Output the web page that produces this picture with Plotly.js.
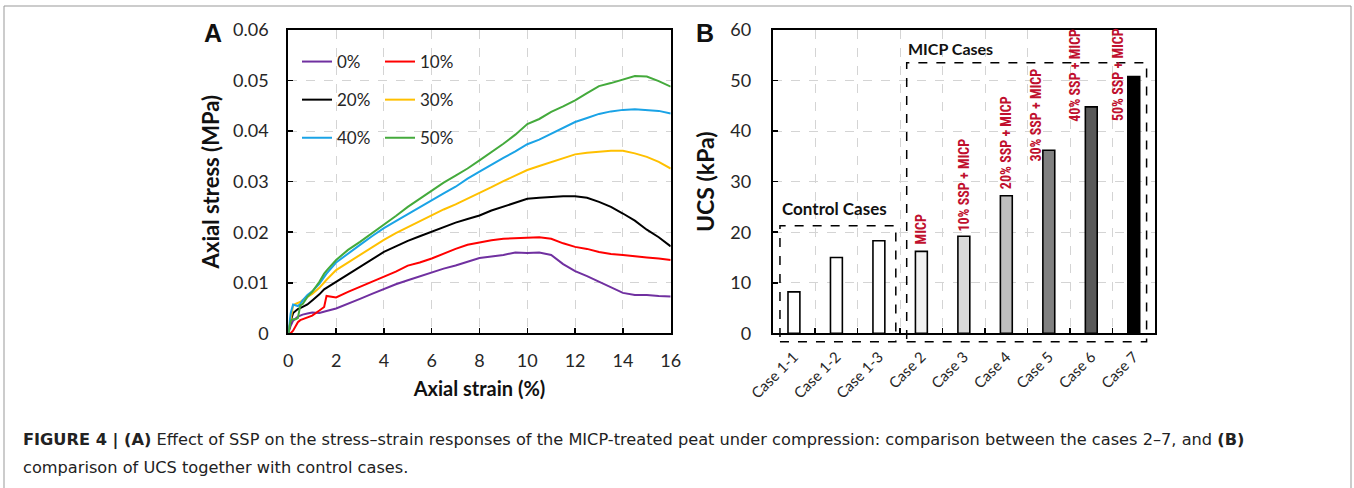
<!DOCTYPE html>
<html>
<head>
<meta charset="utf-8">
<script src="https://cdn.plot.ly/plotly-3.0.1.min.js"></script>
<style>html,body{margin:0;padding:0;background:#fff;}#chart{width:1354px;height:488px;}</style>
</head>
<body>
<div id="chart"></div>
<script>
// ---- Panel A data: axial strain (%) vs axial stress (MPa)
const strain = [0,0.1,0.2,0.3,0.4,0.5,0.6,0.8,1.0,1.3,1.5,1.6,2.0,2.5,3.0,3.5,4.0,4.5,5.0,5.5,6.0,6.5,7.0,7.5,8.0,8.5,9.0,9.5,10.0,10.5,11.0,11.5,12.0,12.5,13.0,13.5,14.0,14.5,15.0,15.5,16.0];
const stress0  = [0,0.0015,0.0025,0.003,0.0033,0.0035,0.0037,0.0039,0.0041,0.004,0.0042,0.0044,0.0049,0.0058,0.0068,0.0078,0.0088,0.0097,0.0105,0.0113,0.012,0.0128,0.0134,0.0141,0.0149,0.0152,0.0155,0.016,0.0159,0.016,0.0155,0.0137,0.0123,0.0113,0.0102,0.009,0.008,0.0076,0.0076,0.0074,0.0073];
const stress10 = [0,0,0.0005,0.0015,0.0022,0.0026,0.0028,0.0031,0.0035,0.0045,0.0052,0.0074,0.0071,0.0082,0.0092,0.0102,0.0113,0.0122,0.0134,0.014,0.0148,0.0158,0.0167,0.0175,0.018,0.0184,0.0187,0.0188,0.019,0.019,0.0187,0.0178,0.0171,0.0167,0.0161,0.0157,0.0155,0.0152,0.015,0.0148,0.0145];
const stress20 = [0,0.0025,0.004,0.0045,0.0048,0.005,0.0052,0.0057,0.0065,0.0077,0.0087,0.009,0.0102,0.0117,0.0132,0.0147,0.0161,0.0172,0.0183,0.0192,0.0201,0.021,0.0219,0.0226,0.0233,0.0243,0.0251,0.0258,0.0266,0.0268,0.027,0.0271,0.0271,0.0268,0.026,0.025,0.0237,0.0223,0.0205,0.019,0.0172];
const stress30 = [0,0.003,0.0055,0.0058,0.006,0.0062,0.0066,0.0072,0.0078,0.009,0.0102,0.0106,0.0125,0.014,0.0155,0.0171,0.0185,0.0198,0.021,0.0222,0.0233,0.0245,0.0255,0.0266,0.0277,0.0289,0.0301,0.0312,0.0323,0.0331,0.0339,0.0347,0.0354,0.0357,0.0359,0.0361,0.0361,0.0356,0.0349,0.0339,0.0326];
const stress40 = [0,0.004,0.0057,0.0056,0.0054,0.0058,0.0065,0.0076,0.0083,0.0098,0.0112,0.0118,0.014,0.0158,0.0175,0.0192,0.0208,0.0222,0.0236,0.025,0.0263,0.0277,0.029,0.0306,0.032,0.0334,0.0347,0.036,0.0374,0.0383,0.0395,0.0406,0.0418,0.0426,0.0434,0.0439,0.0442,0.0443,0.0442,0.044,0.0435];
const stress50 = [0,0.0025,0.0028,0.0028,0.003,0.0055,0.0058,0.0072,0.0082,0.0102,0.0118,0.0124,0.0145,0.0165,0.0181,0.0198,0.0214,0.0232,0.025,0.0266,0.0283,0.0298,0.0312,0.0326,0.0342,0.0358,0.0375,0.0393,0.0414,0.0424,0.0438,0.0449,0.0461,0.0475,0.0489,0.0495,0.0502,0.0509,0.0508,0.0499,0.0488];
const seriesNames = ['0%','10%','20%','30%','40%','50%'];

// ---- Panel B data: UCS (kPa)
const cases = ['Case 1-1','Case 1-2','Case 1-3','Case 2','Case 3','Case 4','Case 5','Case 6','Case 7'];
const ucs = [8.2, 15.0, 18.3, 16.2, 19.2, 27.2, 36.2, 44.8, 50.8];
const barLabels = ['MICP','10% SSP + MICP','20% SSP + MICP','30% SSP + MICP','40% SSP + MICP','50% SSP + MICP'];

const FONT = 'Lato, "Open Sans", sans-serif';
const NARROW = '"Liberation Sans Narrow", "Roboto Condensed", Roboto, sans-serif';
const CAP = '"DejaVu Sans", "Liberation Sans", Arial, sans-serif';
const TXT = '#262626';
const colors = ['#7030A0','#FF0000','#000000','#FFC000','#1AA3E6','#44AA3C'];
const stresses = [stress0, stress10, stress20, stress30, stress40, stress50];
const legendOf = ['legend','legend2','legend','legend2','legend','legend2'];

const traces = stresses.map((s, i) => ({
  type: 'scatter', mode: 'lines', x: strain, y: s, name: seriesNames[i],
  line: {color: colors[i], width: 2}, xaxis: 'x', yaxis: 'y',
  legend: legendOf[i], legendgroup: 'g' + i, showlegend: true
}));

const barFill = ['#ffffff','#ffffff','#ffffff','#f2f2f2','#d9d9d9','#bfbfbf','#808080','#595959','#000000'];
traces.push({
  type: 'bar', x: cases, y: ucs, xaxis: 'x2', yaxis: 'y2', width: 0.28,
  marker: {color: barFill, line: {color: '#000', width: 1.6}}, showlegend: false
});

const yDom = [0.317, 0.9385];
const axBase = {
  showline: true, mirror: true, linecolor: '#000', linewidth: 2,
  ticks: 'inside', ticklen: 5, tickwidth: 1.5, tickcolor: '#000',
  showgrid: true, gridcolor: '#d4d4d4', griddash: 'dash', gridwidth: 1,
  zeroline: false, tickfont: {family: FONT, size: 18, color: TXT}
};

// annotation positions for red bar labels (category index, bottom value)
const labelX = [2.98, 4.0, 4.99, 5.69, 6.61, 7.63];
const labelY = [17.1, 19.8, 28.2, 33.6, 41.5, 41.5];
const annotations = barLabels.map((t, i) => ({
  xref: 'x2', yref: 'y2', x: labelX[i], y: labelY[i], text: '<b>' + t + '</b>',
  textangle: -90, xanchor: 'center', yanchor: 'bottom', showarrow: false,
  font: {family: NARROW, size: 14, color: '#C0102E'}
}));
annotations.push(
  {xref: 'x2', yref: 'y2', x: 0.965, y: 24.7, text: '<b>Control Cases</b>', showarrow: false,
   font: {family: FONT, size: 17, color: '#111'}},
  {xref: 'x2', yref: 'y2', x: 3.69, y: 56.4, text: '<b>MICP Cases</b>', showarrow: false,
   font: {family: FONT, size: 16, color: '#111'}},
  {xref: 'paper', yref: 'paper', x: 213/1354, y: (488-33)/488, xanchor: 'center', yanchor: 'middle',
   text: '<b>A</b>', showarrow: false,
   font: {family: 'Liberation Sans, Arial, sans-serif', size: 25, color: '#111'}},
  {xref: 'paper', yref: 'paper', x: 705/1354, y: (488-33)/488, xanchor: 'center', yanchor: 'middle',
   text: '<b>B</b>', showarrow: false,
   font: {family: 'Liberation Sans, Arial, sans-serif', size: 25, color: '#111'}},
  {xref: 'paper', yref: 'paper', x: 21/1354, y: (488-440)/488, xanchor: 'left', yanchor: 'middle', showarrow: false, align: 'left',
   text: '<b>FIGURE 4 | (A)</b> Effect of SSP on the stress–strain responses of the MICP-treated peat under compression: comparison between the cases 2–7, and <b>(B)</b>',
   font: {family: CAP, size: 16.2, color: '#222'}},
  {xref: 'paper', yref: 'paper', x: 21/1354, y: (488-467)/488, xanchor: 'left', yanchor: 'middle', showarrow: false, align: 'left',
   text: 'comparison of UCS together with control cases.',
   font: {family: CAP, size: 16.2, color: '#222'}}
);

const shapes = [
  {type: 'rect', xref: 'x2 domain', yref: 'y2 domain', x0: 0.019, x1: 0.322, y0: -0.0275, y1: 0.355,
   line: {color: '#000', width: 1.5, dash: 'dash'}},
  {type: 'rect', xref: 'x2 domain', yref: 'y2 domain', x0: 0.3505, x1: 0.978, y0: -0.0275, y1: 0.892,
   line: {color: '#000', width: 1.5, dash: 'dash'}},
  {type: 'rect', xref: 'paper', yref: 'paper', x0: 4/1354, x1: 1351/1354, y0: -0.2, y1: (488-6)/488,
   line: {color: '#999', width: 1}}
];

const legendBase = {
  bgcolor: 'rgba(0,0,0,0)', borderwidth: 0, traceorder: 'grouped', tracegroupgap: 13,
  font: {family: FONT, size: 17, color: TXT}, xanchor: 'left', yanchor: 'top', itemwidth: 30
};

const layout = {
  width: 1354, height: 488, margin: {l: 0, r: 0, t: 0, b: 0},
  paper_bgcolor: '#fff', plot_bgcolor: '#fff', showlegend: true,
  xaxis: Object.assign({}, axBase, {
    domain: [288.3/1354, 670.7/1354], range: [0, 16], dtick: 2, anchor: 'y',
    ticklabelstandoff: 10,
    title: {text: 'Axial strain (%)', standoff: 12, font: {family: FONT, size: 20, weight: 'bold', color: '#111'}}
  }),
  yaxis: Object.assign({}, axBase, {
    domain: yDom, range: [0, 0.06], dtick: 0.01, anchor: 'x',
    ticklabelstandoff: 14,
    title: {text: 'Axial stress (MPa)', standoff: 7, font: {family: FONT, size: 22, weight: 'bold', color: '#111'}}
  }),
  xaxis2: Object.assign({}, axBase, {
    domain: [772.7/1354, 1155/1354], type: 'category', anchor: 'y2', tickson: 'boundaries',
    tickangle: -45, ticklabelstandoff: 7, tickfont: {family: FONT, size: 15, color: TXT}
  }),
  yaxis2: Object.assign({}, axBase, {
    domain: yDom, range: [0, 60], dtick: 10, anchor: 'x2', ticklabelstandoff: 16,
    title: {text: 'UCS (kPa)', standoff: 9, font: {family: FONT, size: 23, weight: 'bold', color: '#111'}}
  }),
  legend: Object.assign({}, legendBase, {x: 297/1354, y: (488-44)/488}),
  legend2: Object.assign({}, legendBase, {x: 380/1354, y: (488-44)/488}),
  annotations: annotations,
  shapes: shapes,
  bargap: 0.7
};

Plotly.newPlot('chart', traces, layout, {displayModeBar: false, staticPlot: true});
</script>
</body>
</html>
